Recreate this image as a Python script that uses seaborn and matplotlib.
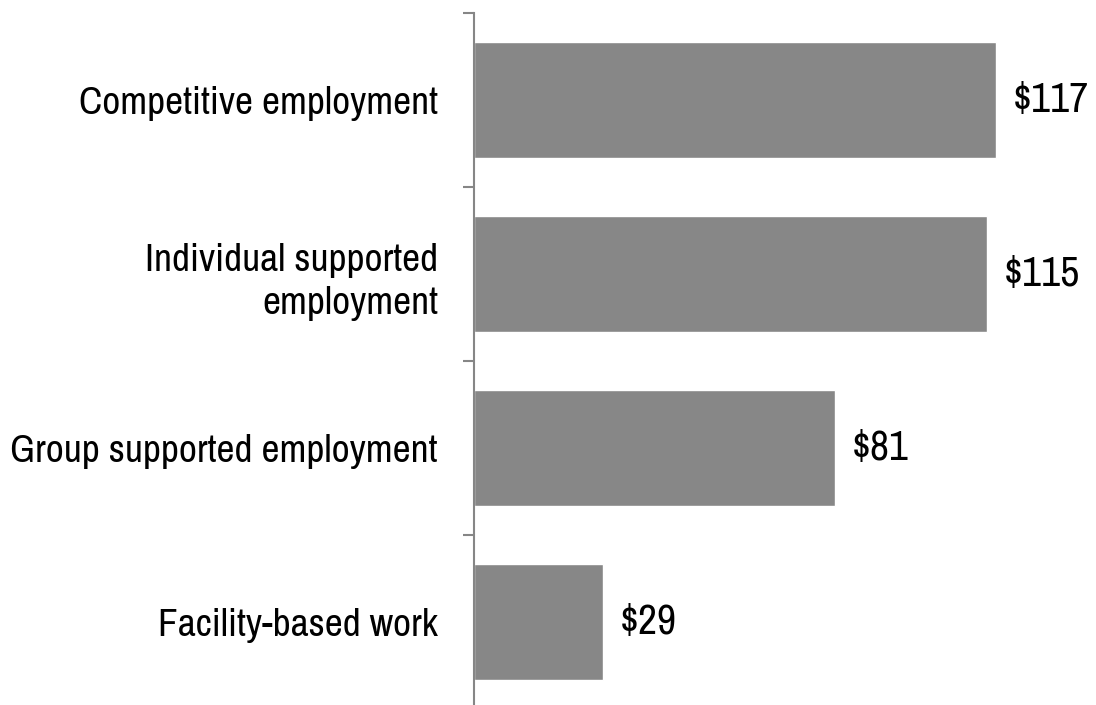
import matplotlib
matplotlib.use("Agg")
import matplotlib.pyplot as plt
import seaborn as sns
import pandas as pd

categories = [
    "Competitive employment",
    "Individual supported\nemployment",
    "Group supported employment",
    "Facility-based work",
]
values = [117, 115, 81, 29]
value_labels = ["$117", "$115", "$81", "$29"]

df = pd.DataFrame({"category": categories, "value": values})

sns.set_theme(style="white")
plt.rcParams["font.family"] = ["Archivo Narrow", "DejaVu Sans"]

fig = plt.figure(figsize=(10.96, 7.05), dpi=100)
ax = fig.add_axes([474 / 1096, -4 / 705, 622 / 1096, 696 / 705])

sns.barplot(data=df, y="category", x="value", orient="h", color="#878787",
            saturation=1, width=0.667, ax=ax)

ax.set_xlim(0, 622 / (522 / 117))
ax.set_ylim(3.5, -0.5)
ax.set_xlabel("")
ax.set_ylabel("")
ax.set_xticks([])

for s in ["top", "right", "bottom"]:
    ax.spines[s].set_visible(False)
ax.spines["left"].set_color("#868686")
ax.spines["left"].set_linewidth(1.5)

ax.set_yticks(range(len(categories)))
ax.set_yticklabels(categories, fontsize=28.3, color="black", ha="right",
                   linespacing=1.3)
ax.tick_params(axis="y", which="major", length=0, pad=26)
ax.set_yticks([-0.5, 0.5, 1.5, 2.5, 3.5], minor=True)
ax.tick_params(axis="y", which="minor", length=8, width=1.5,
               color="#868686", left=True)

for container in ax.containers:
    ax.bar_label(container, labels=value_labels, padding=12, fontsize=30,
                 color="black")

fig.savefig("out.png", dpi=100)
